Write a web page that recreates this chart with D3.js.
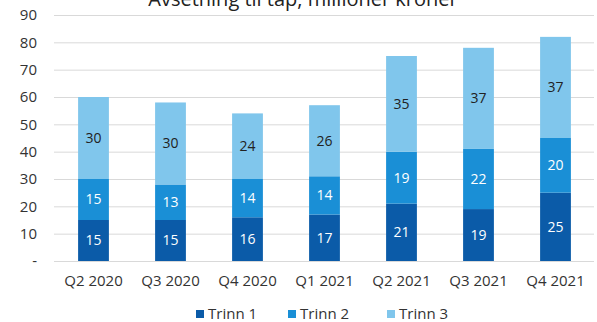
<!DOCTYPE html>
<html>
<head>
<meta charset="utf-8">
<script src="https://cdn.jsdelivr.net/npm/d3@7"></script>
<style>
  html, body { margin: 0; padding: 0; background: #fff; }
  svg { display: block; font-family: "Open Sans", sans-serif; }
</style>
</head>
<body>
<svg id="chart" width="597" height="322"></svg>
<script>
// Avsetning til tap per kvartal, fordelt på trinn (millioner kroner)
const quarters = ["Q2 2020", "Q3 2020", "Q4 2020", "Q1 2021", "Q2 2021", "Q3 2021", "Q4 2021"];
const trinn1 = [15, 15, 16, 17, 21, 19, 25];
const trinn2 = [15, 13, 14, 14, 19, 22, 20];
const trinn3 = [30, 30, 24, 26, 35, 37, 37];
const seriesNames = ["Trinn 1", "Trinn 2", "Trinn 3"];
const yTicks = [0, 10, 20, 30, 40, 50, 60, 70, 80, 90];
const yTickLabels = ["-", "10", "20", "30", "40", "50", "60", "70", "80", "90"];
const title = "Avsetning til tap, millioner kroner";

const colors = ["#0b5ba8", "#1a8fd6", "#80c6ec"];
const labelColors = ["#ffffff", "#ffffff", "#222222"];

const svg = d3.select("#chart");

const rows = quarters.map((q, i) => ({
  quarter: q, "Trinn 1": trinn1[i], "Trinn 2": trinn2[i], "Trinn 3": trinn3[i]
}));
const stacked = d3.stack().keys(seriesNames)(rows);

const x = d3.scaleBand().domain(quarters).range([55, 594]).paddingInner(0.6).paddingOuter(0.3);
const y = d3.scaleLinear().domain([0, 90]).range([261, 15]);

// title (sits partly above the top edge of the chart area)
svg.append("text")
  .attr("x", 303).attr("y", 6)
  .attr("text-anchor", "middle")
  .attr("font-size", 20)
  .attr("fill", "#222")
  .text(title);

// horizontal gridlines
svg.append("g").selectAll("line").data(yTicks).join("line")
  .attr("x1", 54).attr("x2", 594)
  .attr("y1", d => y(d) + 0.5).attr("y2", d => y(d) + 0.5)
  .attr("stroke", "#d9d9d9").attr("stroke-width", 1);

// y axis labels
const yAxis = d3.axisLeft(y).tickValues(yTicks)
  .tickFormat((d, i) => yTickLabels[i]).tickSize(0).tickPadding(0);
const gy = svg.append("g").attr("transform", "translate(37,0)").call(yAxis);
gy.select(".domain").remove();
gy.selectAll("text").attr("font-size", 15).attr("fill", "#333")
  .attr("font-family", "'Open Sans', sans-serif");

// stacked bars
const layers = svg.append("g").selectAll("g").data(stacked).join("g")
  .attr("fill", (d, i) => colors[i]);
layers.selectAll("rect").data(d => d).join("rect")
  .attr("x", d => x(d.data.quarter))
  .attr("width", x.bandwidth())
  .attr("y", d => y(d[1]))
  .attr("height", d => y(d[0]) - y(d[1]));

// value labels
stacked.forEach((layer, li) => {
  svg.append("g").selectAll("text").data(layer).join("text")
    .attr("x", d => x(d.data.quarter) + x.bandwidth() / 2)
    .attr("y", d => (y(d[0]) + y(d[1])) / 2)
    .attr("dy", "0.35em")
    .attr("text-anchor", "middle")
    .attr("font-size", 14)
    .attr("fill", labelColors[li])
    .text(d => d[1] - d[0]);
});

// x axis labels
const xAxis = d3.axisBottom(x).tickSize(0).tickPadding(0);
const gx = svg.append("g").attr("transform", "translate(0,275)").call(xAxis);
gx.select(".domain").remove();
gx.selectAll("text").attr("font-size", 15).attr("fill", "#333")
  .attr("font-family", "'Open Sans', sans-serif");

// legend
const legendX = [196, 288, 387];
const legend = svg.append("g").selectAll("g").data(seriesNames).join("g")
  .attr("transform", (d, i) => `translate(${legendX[i]},314)`);
legend.append("rect")
  .attr("x", 0).attr("y", -4).attr("width", 8).attr("height", 8)
  .attr("fill", (d, i) => colors[i]);
legend.append("text")
  .attr("x", 12).attr("y", 0).attr("dy", "0.35em")
  .attr("font-size", 15).attr("fill", "#333")
  .text(d => d);
</script>
</body>
</html>
